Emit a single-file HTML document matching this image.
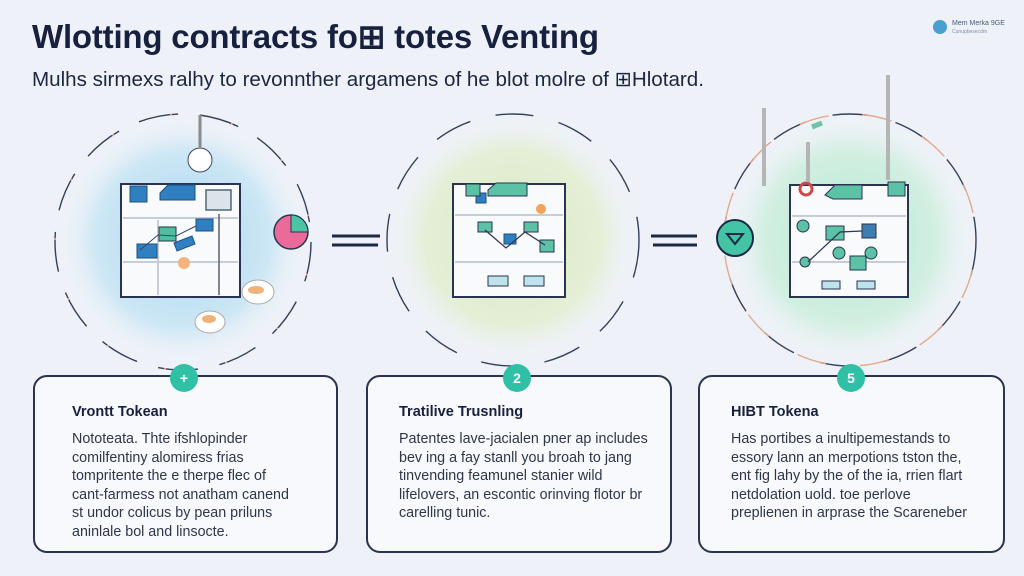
<!DOCTYPE html>
<html><head><meta charset="utf-8"><style>
html,body{margin:0;padding:0;width:1024px;height:576px;overflow:hidden;background:#eef2f8;font-family:"Liberation Sans",sans-serif;}
.t{position:absolute;left:32px;top:17px;font-size:33px;font-weight:bold;color:#17213f;letter-spacing:-0.2px;white-space:nowrap}
.s{position:absolute;left:32px;top:67px;font-size:20.6px;color:#1d2640;white-space:nowrap}
.card{position:absolute;top:375px;height:178px;border:2.5px solid #2a3350;border-radius:14px;background:#f7f9fc;box-sizing:border-box}
.card h3{position:absolute;margin:0;top:27px;font-size:14.5px;font-weight:bold;color:#17213f;white-space:nowrap}
.card p{position:absolute;margin:0;top:53px;font-size:14.3px;line-height:18.6px;color:#2f364a;white-space:nowrap}
.b{position:absolute;top:364px;width:28px;height:28px;border-radius:50%;background:#2fc0a5;color:#fff;font-size:14px;font-weight:bold;text-align:center;line-height:28px}
</style></head><body>
<svg width="1024" height="576" style="position:absolute;left:0;top:0">
<defs>
<radialGradient id="g1"><stop offset="0" stop-color="#a9d6ee"/><stop offset=".7" stop-color="#cde7f5"/><stop offset="1" stop-color="#eef2f8" stop-opacity="0"/></radialGradient>
<radialGradient id="g2"><stop offset="0" stop-color="#dbe9c4"/><stop offset=".7" stop-color="#e4efd6"/><stop offset="1" stop-color="#eef2f8" stop-opacity="0"/></radialGradient>
<radialGradient id="g3"><stop offset="0" stop-color="#b5e8cf"/><stop offset=".7" stop-color="#d3efe2"/><stop offset="1" stop-color="#eef2f8" stop-opacity="0"/></radialGradient>
</defs>
<circle cx="183" cy="240" r="125" fill="url(#g1)"/>
<circle cx="513" cy="238" r="125" fill="url(#g2)"/>
<circle cx="850" cy="238" r="125" fill="url(#g3)"/>
<g fill="none" stroke-width="1.4">
<circle cx="183" cy="242" r="128" stroke="#34405a" stroke-dasharray="40 22"/>
<circle cx="183" cy="242" r="128" stroke="#e2a98a" stroke-dasharray="2 60" stroke-dashoffset="30"/>
<circle cx="513" cy="240" r="126" stroke="#34405a" stroke-dasharray="38 26"/>
<circle cx="850" cy="240" r="126" stroke="#34405a" stroke-dasharray="36 28"/>
<circle cx="850" cy="240" r="126" stroke="#e2a98a" stroke-dasharray="30 34" stroke-dashoffset="34"/>
</g>
<g stroke="#2a3350" stroke-width="2" fill="#f8fafc">
<rect x="121" y="184" width="119" height="113"/>
<rect x="453" y="184" width="112" height="113"/>
<rect x="790" y="185" width="118" height="112"/>
</g>
<g stroke="#c6ccd8" stroke-width="2">
<line x1="123" y1="218" x2="238" y2="218"/><line x1="123" y1="262" x2="238" y2="262"/><line x1="158" y1="220" x2="158" y2="295"/>
<line x1="455" y1="215" x2="563" y2="215"/><line x1="455" y1="262" x2="563" y2="262"/>
<line x1="792" y1="216" x2="906" y2="216"/><line x1="792" y1="262" x2="906" y2="262"/>
</g>
<line x1="219" y1="214" x2="219" y2="295" stroke="#5a5f6e" stroke-width="1.5"/>
<g fill="#2f7fc1" stroke="#1f4f80" stroke-width="1">
<rect x="130" y="186" width="17" height="16"/><polygon points="160,193 168,185 195,185 195,200 160,200"/>
<rect x="196" y="219" width="17" height="12"/><rect x="137" y="244" width="20" height="14"/>
<polygon points="174,243 192,236 195,244 177,251"/>
<rect x="476" y="193" width="10" height="10"/>
<rect x="504" y="234" width="12" height="10" />
</g>
<rect x="206" y="190" width="25" height="20" fill="#dde3ea" stroke="#4f6877" stroke-width="1.5"/>
<rect x="159" y="227" width="17" height="14" fill="#4fbfa0" stroke="#2a3350" stroke-width="1"/>
<polyline points="140,250 158,235 176,236 196,226" fill="none" stroke="#3a4560" stroke-width="1"/>
<circle cx="184" cy="263" r="6" fill="#f3b27e"/>
<circle cx="200" cy="160" r="12" fill="#fff" stroke="#3a4560"/>
<line x1="200" y1="115" x2="200" y2="148" stroke="#8a8a8a" stroke-width="3"/>
<ellipse cx="258" cy="292" rx="16" ry="12" fill="#fff" stroke="#aaa"/><ellipse cx="256" cy="290" rx="8" ry="4" fill="#f1b27a"/>
<ellipse cx="210" cy="322" rx="15" ry="11" fill="#fff" stroke="#aaa"/><ellipse cx="209" cy="319" rx="7" ry="4" fill="#f1b27a"/>
<g fill="#5cc2a6" stroke="#2a3350" stroke-width="1">
<polygon points="488,190 496,183 527,183 527,196 488,196"/>
<rect x="466" y="184" width="14" height="12"/><rect x="478" y="222" width="14" height="10"/>
<rect x="524" y="222" width="14" height="10"/><rect x="540" y="240" width="14" height="12"/>
<rect x="488" y="276" width="20" height="10" fill="#bfe3ec"/><rect x="524" y="276" width="20" height="10" fill="#bfe3ec"/>
</g>
<polyline points="485,230 506,248 525,232 545,245" fill="none" stroke="#2a3350" stroke-width="1.2"/>
<circle cx="541" cy="209" r="5" fill="#f3a45a"/>
<g fill="#5cc2a6" stroke="#2a3350" stroke-width="1">
<polygon points="825,195 835,185 862,185 862,199 833,199"/>
<rect x="888" y="182" width="17" height="14"/><rect x="826" y="226" width="18" height="14"/>
<rect x="850" y="256" width="16" height="14"/>
<circle cx="803" cy="226" r="6"/><circle cx="839" cy="253" r="6"/><circle cx="871" cy="253" r="6"/><circle cx="805" cy="262" r="5"/>
<rect x="822" y="281" width="18" height="8" fill="#bfe3ec"/><rect x="857" y="281" width="18" height="8" fill="#bfe3ec"/>
</g>
<rect x="862" y="224" width="14" height="14" fill="#3d7db0" stroke="#2a3350"/>
<polyline points="808,262 840,232 862,231" fill="none" stroke="#2a3350" stroke-width="1.2"/>
<circle cx="806" cy="189" r="6" fill="none" stroke="#d0494a" stroke-width="3"/>
<g stroke="#b5b5b5" stroke-width="4" fill="none">
<line x1="764" y1="108" x2="764" y2="186"/><line x1="808" y1="142" x2="808" y2="182"/><line x1="888" y1="75" x2="888" y2="180"/>
</g>
<line x1="812" y1="127" x2="822" y2="123" stroke="#6ec3a5" stroke-width="5"/>
<g stroke="#1e2845" stroke-width="3">
<line x1="332" y1="236" x2="380" y2="236"/><line x1="332" y1="245" x2="378" y2="245"/>
<line x1="651" y1="236" x2="697" y2="236"/><line x1="653" y1="245" x2="697" y2="245"/>
</g>
<circle cx="291" cy="232" r="17" fill="#ea6b9a" stroke="#2a3350" stroke-width="1.5"/>
<path d="M291,232 L291,215 A17,17 0 0 1 308,232 Z" fill="#4cc5a4" stroke="#2a3350" stroke-width="1"/>
<circle cx="735" cy="238" r="18" fill="#45c3a5" stroke="#1e2845" stroke-width="2"/>
<polygon points="727,234 743,234 735,244" fill="none" stroke="#1e2845" stroke-width="2"/>
<circle cx="940" cy="27" r="7" fill="#4a9fd1"/>
<text x="952" y="25" font-size="7" fill="#4a5a7a" font-family="Liberation Sans">Mem Merka 9GE</text>
<text x="952" y="33" font-size="5" fill="#8090a8" font-family="Liberation Sans">Cunupbesecdm</text>
</svg>
<div class="t">Wlotting contracts fo⊞ totes Venting</div>
<div class="s">Mulhs sirmexs ralhy to revonnther argamens of he blot molre of ⊞Hlotard.</div>
<div class="card" style="left:33px;width:305px"><h3 style="left:37px">Vrontt Tokean</h3><p style="left:37px">Nototeata. Thte ifshlopinder<br>comilfentiny alomiress frias<br>tompritente the e therpe flec of<br>cant-farmess not anatham canend<br>st undor colicus by pean priluns<br>aninlale bol and linsocte.</p></div>
<div class="card" style="left:366px;width:306px"><h3 style="left:31px">Tratilive Trusnling</h3><p style="left:31px">Patentes lave-jacialen pner ap includes<br>bev ing a fay stanll you broah to jang<br>tinvending feamunel stanier wild<br>lifelovers, an escontic orinving flotor br<br>carelling tunic.</p></div>
<div class="card" style="left:698px;width:307px"><h3 style="left:31px">HIBT Tokena</h3><p style="left:31px">Has portibes a inultipemestands to<br>essory lann an merpotions tston the,<br>ent fig lahy by the of the ia, rrien flart<br>netdolation uold. toe perlove<br>preplienen in arprase the Scareneber</p></div>
<div class="b" style="left:170px">+</div>
<div class="b" style="left:503px">2</div>
<div class="b" style="left:837px">5</div>
</body></html>
